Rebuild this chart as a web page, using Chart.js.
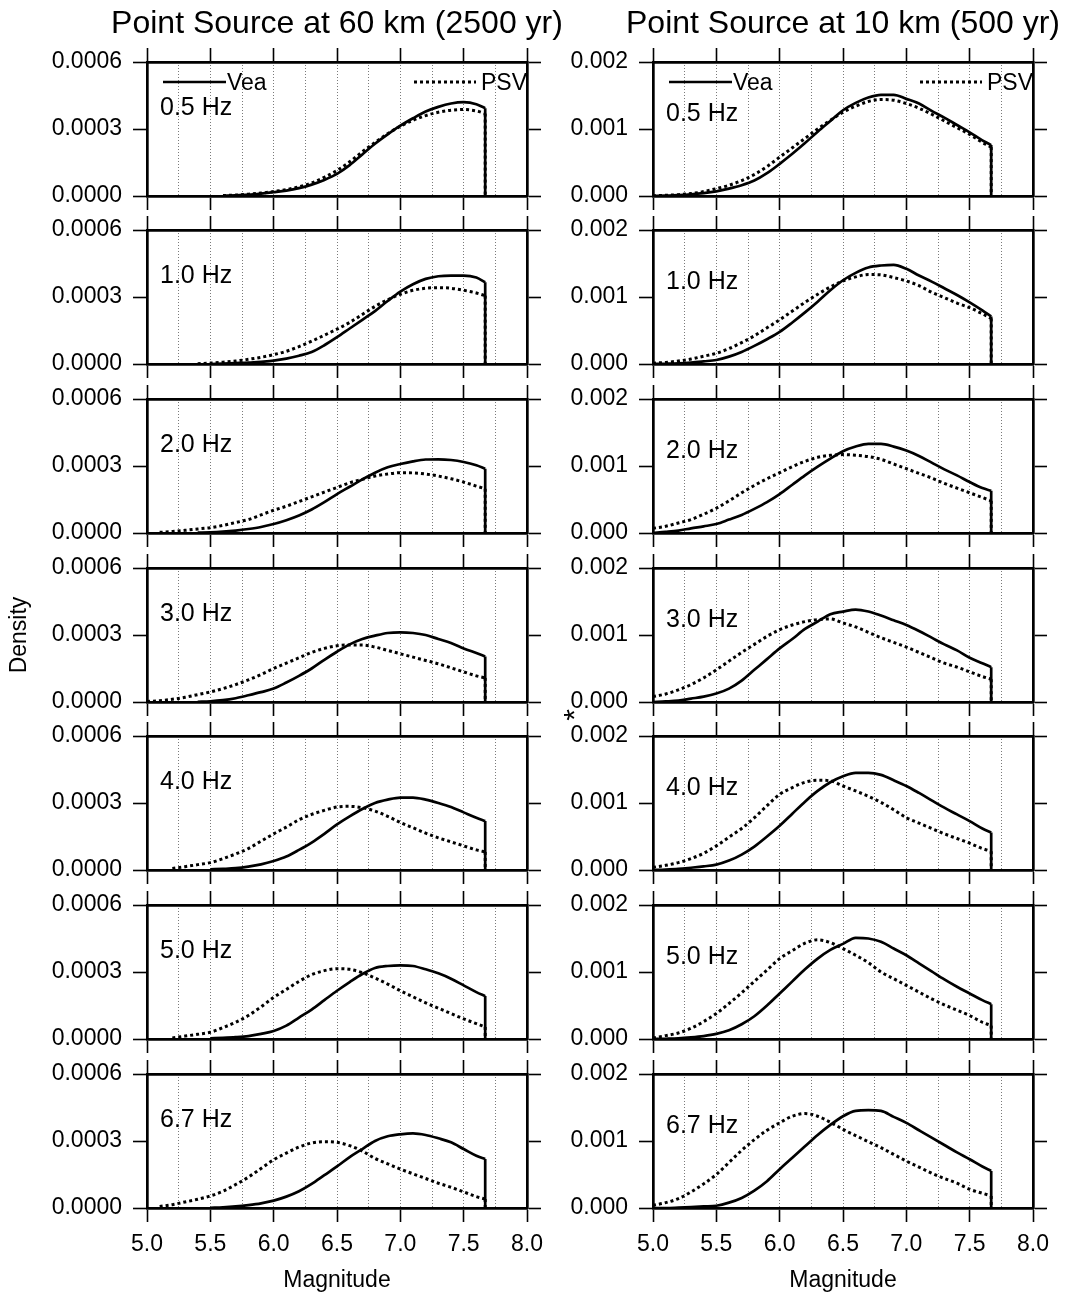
<!DOCTYPE html>
<html><head><meta charset="utf-8">
<script src="https://cdn.jsdelivr.net/npm/chart.js@4.4.1/dist/chart.umd.min.js"></script>
<style>
html,body{margin:0;padding:0;background:#fff;}
#wrap{position:relative;width:1068px;height:1296px;overflow:hidden;background:#fff;}
#wrap canvas{position:absolute;}
</style></head><body><div id="wrap"></div>
<script>
// ---------------- DATA ----------------
const magnitudes = [5.0,5.1,5.2,5.3,5.4,5.5,5.6,5.7,5.8,5.9,6.0,6.1,6.2,6.3,6.4,6.5,6.6,6.7,6.8,6.9,7.0,7.1,7.2,7.3,7.4,7.5,7.6,7.67,7.67];
const frequencies = ['0.5 Hz','1.0 Hz','2.0 Hz','3.0 Hz','4.0 Hz','5.0 Hz','6.7 Hz'];
const columnTitles = ['Point Source at 60 km (2500 yr)','Point Source at 10 km (500 yr)'];
const seriesNames = ['Vea','PSV'];
const yTicks60km = [0, 0.0003, 0.0006];
const yTicks10km = [0, 0.001, 0.002];
const xTickLabels = ['5.0','5.5','6.0','6.5','7.0','7.5','8.0'];
const xAxisTitle = 'Magnitude';
const yAxisTitle = 'Density';
const n = null;

// 60 km (2500 yr) column
const vea60_05 = [n,n,n,n,n,n,0.000001,0.000003,0.000006,0.000011,0.000017,0.000024,0.000035,0.000051,0.000072,0.000099,0.000138,0.000186,0.000234,0.000276,0.000315,0.000348,0.000378,0.000399,0.000414,0.000420,0.000411,0.000393,0];
const psv60_05 = [n,n,n,n,n,n,0.000002,0.000004,0.000008,0.000013,0.000020,0.000029,0.000041,0.000058,0.000084,0.000114,0.000153,0.000198,0.000240,0.000279,0.000312,0.000339,0.000360,0.000375,0.000384,0.000387,0.000381,0.000369,0];
const vea60_10 = [n,n,n,n,n,0.000000,0.000002,0.000004,0.000006,0.000010,0.000015,0.000024,0.000037,0.000054,0.000084,0.000120,0.000159,0.000198,0.000237,0.000282,0.000324,0.000357,0.000381,0.000393,0.000396,0.000396,0.000387,0.000366,0];
const psv60_10 = [n,n,n,n,0.000001,0.000004,0.000008,0.000013,0.000021,0.000030,0.000042,0.000057,0.000078,0.000102,0.000129,0.000156,0.000186,0.000222,0.000258,0.000288,0.000312,0.000330,0.000339,0.000342,0.000339,0.000330,0.000318,0.000306,0];
const vea60_20 = [n,n,n,n,0.000002,0.000003,0.000006,0.000011,0.000018,0.000027,0.000040,0.000057,0.000078,0.000105,0.000138,0.000174,0.000207,0.000240,0.000270,0.000294,0.000309,0.000321,0.000329,0.000330,0.000327,0.000318,0.000303,0.000288,0];
const psv60_20 = [n,0.000003,0.000007,0.000012,0.000018,0.000024,0.000034,0.000047,0.000060,0.000081,0.000102,0.000120,0.000141,0.000162,0.000183,0.000204,0.000225,0.000240,0.000255,0.000264,0.000270,0.000269,0.000264,0.000255,0.000243,0.000228,0.000210,0.000198,0];
const vea60_30 = [n,n,n,n,0.000001,0.000003,0.000008,0.000017,0.000030,0.000044,0.000060,0.000087,0.000117,0.000150,0.000189,0.000225,0.000258,0.000282,0.000297,0.000309,0.000312,0.000309,0.000300,0.000282,0.000264,0.000240,0.000219,0.000204,0];
const psv60_30 = [0.000002,0.000006,0.000012,0.000021,0.000033,0.000045,0.000060,0.000078,0.000099,0.000123,0.000150,0.000174,0.000198,0.000222,0.000240,0.000252,0.000255,0.000255,0.000246,0.000231,0.000216,0.000201,0.000186,0.000171,0.000153,0.000135,0.000117,0.000108,0];
const vea60_40 = [n,n,n,n,n,0.000003,0.000005,0.000008,0.000015,0.000025,0.000040,0.000060,0.000090,0.000123,0.000162,0.000204,0.000240,0.000273,0.000300,0.000315,0.000324,0.000324,0.000315,0.000300,0.000282,0.000258,0.000234,0.000219,0];
const psv60_40 = [n,n,0.000007,0.000015,0.000024,0.000033,0.000051,0.000072,0.000096,0.000129,0.000162,0.000192,0.000225,0.000249,0.000267,0.000282,0.000285,0.000279,0.000264,0.000240,0.000213,0.000189,0.000165,0.000144,0.000126,0.000108,0.000090,0.000081,0];
const vea60_50 = [n,n,n,n,n,0.000003,0.000005,0.000008,0.000013,0.000023,0.000036,0.000060,0.000096,0.000132,0.000174,0.000216,0.000255,0.000291,0.000318,0.000327,0.000330,0.000327,0.000312,0.000294,0.000270,0.000240,0.000210,0.000192,0];
const psv60_50 = [n,n,0.000005,0.000013,0.000021,0.000030,0.000051,0.000075,0.000105,0.000144,0.000186,0.000222,0.000258,0.000288,0.000306,0.000315,0.000312,0.000297,0.000273,0.000246,0.000216,0.000189,0.000162,0.000138,0.000114,0.000090,0.000069,0.000054,0];
const vea60_67 = [n,n,n,n,n,0.000001,0.000003,0.000007,0.000013,0.000021,0.000033,0.000051,0.000075,0.000108,0.000147,0.000186,0.000228,0.000264,0.000300,0.000321,0.000330,0.000334,0.000327,0.000312,0.000294,0.000264,0.000234,0.000219,0];
const psv60_67 = [n,0.000007,0.000015,0.000027,0.000039,0.000054,0.000075,0.000105,0.000138,0.000177,0.000216,0.000246,0.000273,0.000291,0.000297,0.000294,0.000279,0.000255,0.000222,0.000198,0.000174,0.000153,0.000132,0.000111,0.000093,0.000072,0.000051,0.000040,0];

// 10 km (500 yr) column
const vea10_05 = [0,0.000006,0.000014,0.000026,0.000044,0.000070,0.000110,0.000160,0.000230,0.000340,0.000480,0.000630,0.000790,0.000960,0.001120,0.001280,0.001390,0.001470,0.001510,0.001510,0.001450,0.001380,0.001270,0.001170,0.001060,0.000950,0.000830,0.000760,0];
const psv10_05 = [0.000004,0.000010,0.000020,0.000036,0.000066,0.000110,0.000160,0.000230,0.000320,0.000440,0.000580,0.000720,0.000860,0.001000,0.001130,0.001250,0.001340,0.001410,0.001440,0.001430,0.001380,0.001310,0.001220,0.001120,0.001020,0.000920,0.000800,0.000730,0];
const vea10_10 = [0,0.000004,0.000010,0.000022,0.000040,0.000060,0.000110,0.000180,0.000270,0.000370,0.000480,0.000620,0.000770,0.000930,0.001100,0.001250,0.001360,0.001440,0.001470,0.001480,0.001420,0.001320,0.001230,0.001130,0.001030,0.000920,0.000800,0.000710,0];
const psv10_10 = [0.000012,0.000024,0.000044,0.000074,0.000116,0.000160,0.000230,0.000320,0.000420,0.000540,0.000660,0.000790,0.000920,0.001040,0.001150,0.001240,0.001300,0.001336,0.001330,0.001290,0.001240,0.001170,0.001070,0.000990,0.000910,0.000840,0.000750,0.000680,0];
const vea10_20 = [0,0.000016,0.000036,0.000070,0.000100,0.000134,0.000200,0.000270,0.000360,0.000460,0.000580,0.000720,0.000860,0.000990,0.001110,0.001220,0.001290,0.001330,0.001330,0.001290,0.001230,0.001150,0.001050,0.000950,0.000860,0.000760,0.000670,0.000630,0];
const psv10_20 = [0.000070,0.000100,0.000150,0.000200,0.000280,0.000370,0.000480,0.000600,0.000710,0.000810,0.000900,0.000990,0.001070,0.001130,0.001160,0.001170,0.001160,0.001140,0.001100,0.001030,0.000960,0.000890,0.000820,0.000740,0.000670,0.000600,0.000530,0.000480,0];
const vea10_30 = [0,0.000008,0.000020,0.000050,0.000080,0.000126,0.000200,0.000320,0.000480,0.000640,0.000800,0.000940,0.001090,0.001200,0.001310,0.001350,0.001380,0.001350,0.001290,0.001220,0.001150,0.001060,0.000960,0.000860,0.000770,0.000660,0.000580,0.000520,0];
const psv10_30 = [0.000080,0.000120,0.000180,0.000260,0.000360,0.000480,0.000610,0.000740,0.000860,0.000980,0.001080,0.001150,0.001200,0.001230,0.001240,0.001180,0.001120,0.001040,0.000960,0.000890,0.000820,0.000740,0.000660,0.000580,0.000520,0.000450,0.000380,0.000340,0];
const vea10_40 = [0,0.000006,0.000016,0.000034,0.000054,0.000080,0.000140,0.000230,0.000350,0.000500,0.000660,0.000840,0.001020,0.001180,0.001310,0.001400,0.001450,0.001450,0.001420,0.001340,0.001254,0.001150,0.001040,0.000930,0.000830,0.000730,0.000620,0.000560,0];
const psv10_40 = [0.000040,0.000070,0.000110,0.000170,0.000250,0.000360,0.000490,0.000620,0.000780,0.000960,0.001130,0.001230,0.001310,0.001340,0.001330,0.001254,0.001180,0.001100,0.001010,0.000900,0.000780,0.000700,0.000620,0.000540,0.000470,0.000400,0.000320,0.000280,0];
const vea10_50 = [0,0.000004,0.000010,0.000024,0.000044,0.000076,0.000130,0.000220,0.000340,0.000500,0.000680,0.000860,0.001040,0.001200,0.001330,0.001420,0.001510,0.001500,0.001450,0.001350,0.001250,0.001130,0.001010,0.000890,0.000780,0.000680,0.000580,0.000520,0];
const psv10_50 = [0.000016,0.000050,0.000090,0.000160,0.000260,0.000380,0.000530,0.000690,0.000860,0.001030,0.001200,0.001320,0.001430,0.001480,0.001440,0.001350,0.001250,0.001140,0.001000,0.000900,0.000800,0.000700,0.000600,0.000510,0.000430,0.000350,0.000250,0.000200,0];
const vea10_67 = [0,0,0.000006,0.000014,0.000024,0.000034,0.000080,0.000150,0.000260,0.000400,0.000580,0.000750,0.000920,0.001090,0.001240,0.001370,0.001450,0.001460,0.001450,0.001360,0.001270,0.001160,0.001050,0.000940,0.000830,0.000728,0.000620,0.000554,0];
const psv10_67 = [0.000040,0.000080,0.000140,0.000240,0.000360,0.000500,0.000680,0.000860,0.001020,0.001160,0.001272,0.001370,0.001410,0.001370,0.001280,0.001174,0.001080,0.000990,0.000900,0.000800,0.000700,0.000610,0.000520,0.000440,0.000370,0.000280,0.000220,0.000180,0];

const veaSeries = [
  [vea60_05,vea60_10,vea60_20,vea60_30,vea60_40,vea60_50,vea60_67],
  [vea10_05,vea10_10,vea10_20,vea10_30,vea10_40,vea10_50,vea10_67]
];
const psvSeries = [
  [psv60_05,psv60_10,psv60_20,psv60_30,psv60_40,psv60_50,psv60_67],
  [psv10_05,psv10_10,psv10_20,psv10_30,psv10_40,psv10_50,psv10_67]
];
const yTickSets = [yTicks60km, yTicks10km];
const yDecimals = [4, 3];

// ---------------- LAYOUT ----------------
const FONT = '"Liberation Sans", Arial, Helvetica, sans-serif';
Chart.defaults.font.family = FONT;
Chart.defaults.color = '#000';
const PLOT_W = 380, PLOT_H = 134;
const rowTops = [62,230,399,568,736,905,1074];
const colLefts = [147,653];
const BORDER_W = 2.7, TICK_W = 1.6;

function isHalf(v){ return Math.abs(v*2 - Math.round(v*2)) < 1e-6; }

const annotPlugin = {
  id: 'annot',
  afterDraw(chart, args, o) {
    const ctx = chart.ctx, a = chart.chartArea;
    ctx.save();
    ctx.fillStyle = '#000';
    ctx.textBaseline = 'middle';
    ctx.textAlign = 'left';
    ctx.font = '25px ' + FONT;
    ctx.fillText(o.freq, a.left + 13, a.top + o.freqOffset);
    if (o.legend) {
      ctx.strokeStyle = '#000';
      ctx.lineWidth = 2.7;
      ctx.setLineDash([]);
      ctx.beginPath(); ctx.moveTo(a.left + 16, a.top + 20); ctx.lineTo(a.left + 79, a.top + 20); ctx.stroke();
      ctx.lineWidth = 3;
      ctx.setLineDash([3,3]);
      ctx.beginPath(); ctx.moveTo(a.left + 267, a.top + 20); ctx.lineTo(a.left + 329, a.top + 20); ctx.stroke();
      ctx.setLineDash([]);
      ctx.font = '23px ' + FONT;
      ctx.fillText(seriesNames[0], a.left + 80, a.top + 22);
      ctx.fillText(seriesNames[1], a.left + 334, a.top + 22);
    }
    if (o.title) {
      ctx.font = '32px ' + FONT;
      ctx.textAlign = 'center';
      ctx.fillText(o.title, (a.left + a.right) / 2, 24);
    }
    if (o.star) {
      ctx.font = '30px ' + FONT;
      ctx.textAlign = 'center';
      ctx.translate(a.left - 77, a.top + 147);
      ctx.rotate(-Math.PI / 2);
      ctx.fillText('*', 0, 0);
    }
    ctx.restore();
  }
};

const wrap = document.getElementById('wrap');

for (let col = 0; col < 2; col++) {
  for (let row = 0; row < 7; row++) {
    const PL = col === 0 ? 147 : 113;
    const PR = col === 0 ? 53 : 35;
    const PT = row === 0 ? 62 : 17;
    const PB = row === 6 ? 88 : ((col === 1 && row === 3) ? 30 : 17);
    const left = colLefts[col] - PL, top = rowTops[row] - PT;
    const W = PL + PLOT_W + PR, H = PT + PLOT_H + PB;
    const cv = document.createElement('canvas');
    cv.width = W; cv.height = H;
    cv.style.left = left + 'px'; cv.style.top = top + 'px';
    cv.style.width = W + 'px'; cv.style.height = H + 'px';
    wrap.appendChild(cv);

    const yt = yTickSets[col];
    const ymax = yt[yt.length - 1];
    const ystep = yt[1] - yt[0];
    const dec = yDecimals[col];
    const bottomRow = row === 6;
    const last = magnitudes.length - 1;

    // smooth curve part (all but the final drop point) and the vertical truncation drop (last two points)
    const curvePts = arr => magnitudes.slice(0, last).map((m, i) => ({x: m, y: arr[i]})).filter(p => p.y !== null);
    const dropPts = arr => [{x: magnitudes[last - 1], y: arr[last - 1]}, {x: magnitudes[last], y: arr[last]}];
    const fixH = h => s => { s.height = h; s.paddingLeft = 0; s.paddingRight = 0; s.paddingTop = 0; s.paddingBottom = 0; };
    const fixW = w => s => { s.width = w; s.paddingLeft = 0; s.paddingRight = 0; s.paddingTop = 0; s.paddingBottom = 0; };

    const vea = veaSeries[col][row], psv = psvSeries[col][row];
    const solid = { borderColor: '#000', borderWidth: 2.7, pointRadius: 0, pointHoverRadius: 0, fill: false };
    const dotted = { borderColor: '#000', borderWidth: 3, borderDash: [3,3], borderCapStyle: 'butt', pointRadius: 0, pointHoverRadius: 0, fill: false };

    new Chart(cv, {
      type: 'line',
      data: {
        datasets: [
          Object.assign({ label: seriesNames[0], data: curvePts(vea), cubicInterpolationMode: 'monotone' }, solid),
          Object.assign({ label: seriesNames[0] + ' cutoff', data: dropPts(vea), tension: 0 }, solid),
          Object.assign({ label: seriesNames[1], data: curvePts(psv), cubicInterpolationMode: 'monotone' }, dotted),
          Object.assign({ label: seriesNames[1] + ' cutoff', data: dropPts(psv), tension: 0 }, dotted)
        ]
      },
      options: {
        responsive: false, animation: false, devicePixelRatio: 1, events: [],
        layout: { padding: 0 },
        plugins: {
          legend: { display: false }, tooltip: { enabled: false },
          annot: {
            freq: frequencies[row],
            freqOffset: col === 0 ? 46 : 52,
            legend: row === 0,
            title: row === 0 ? columnTitles[col] : null,
            star: col === 1 && row === 3
          }
        },
        scales: {
          x: {
            type: 'linear', position: 'bottom', min: 5, max: 8,
            afterFit: fixH(PB),
            ticks: {
              display: bottomRow, stepSize: 0.25, autoSkip: false, maxRotation: 0, minRotation: 0,
              padding: 9, font: { size: 23 }, color: '#000',
              callback: v => isHalf(v) ? xTickLabels[Math.round((v - 5) * 2)] : ''
            },
            grid: {
              drawOnChartArea: true, drawTicks: true, tickLength: 14, tickWidth: TICK_W, lineWidth: 1,
              color: c => (c.tick && (c.tick.value === 5 || c.tick.value === 8)) ? 'rgba(0,0,0,0)' : '#7a7a7a',
              tickColor: c => (c.tick && isHalf(c.tick.value)) ? '#000' : 'rgba(0,0,0,0)'
            },
            border: { display: true, color: '#000', width: BORDER_W, dash: [1,2] },
            title: { display: bottomRow, text: xAxisTitle, font: { size: 23 }, padding: { top: 0, bottom: 2 }, color: '#000' }
          },
          xTop: {
            type: 'linear', position: 'top', min: 5, max: 8,
            afterFit: fixH(PT),
            ticks: { display: false, stepSize: 0.5 },
            grid: { drawOnChartArea: false, drawTicks: true, tickLength: 14, tickWidth: TICK_W, tickColor: '#000' },
            border: { display: true, color: '#000', width: BORDER_W }
          },
          y: {
            type: 'linear', position: 'left', min: 0, max: ymax,
            afterFit: fixW(PL),
            ticks: { stepSize: ystep, padding: 11, font: { size: 23 }, color: '#000',
              callback: v => Number(v).toFixed(dec) },
            grid: { drawOnChartArea: false, drawTicks: true, tickLength: 14, tickWidth: TICK_W, tickColor: '#000' },
            border: { display: true, color: '#000', width: BORDER_W },
            title: { display: col === 0 && row === 3, text: yAxisTitle, font: { size: 23 }, padding: { top: 6, bottom: 0 }, color: '#000' }
          },
          yRight: {
            type: 'linear', position: 'right', min: 0, max: ymax,
            afterFit: fixW(PR),
            ticks: { display: false, stepSize: ystep },
            grid: { drawOnChartArea: false, drawTicks: true, tickLength: 14, tickWidth: TICK_W, tickColor: '#000' },
            border: { display: true, color: '#000', width: BORDER_W }
          }
        }
      },
      plugins: [annotPlugin]
    });
  }
}
</script>
</body></html>
